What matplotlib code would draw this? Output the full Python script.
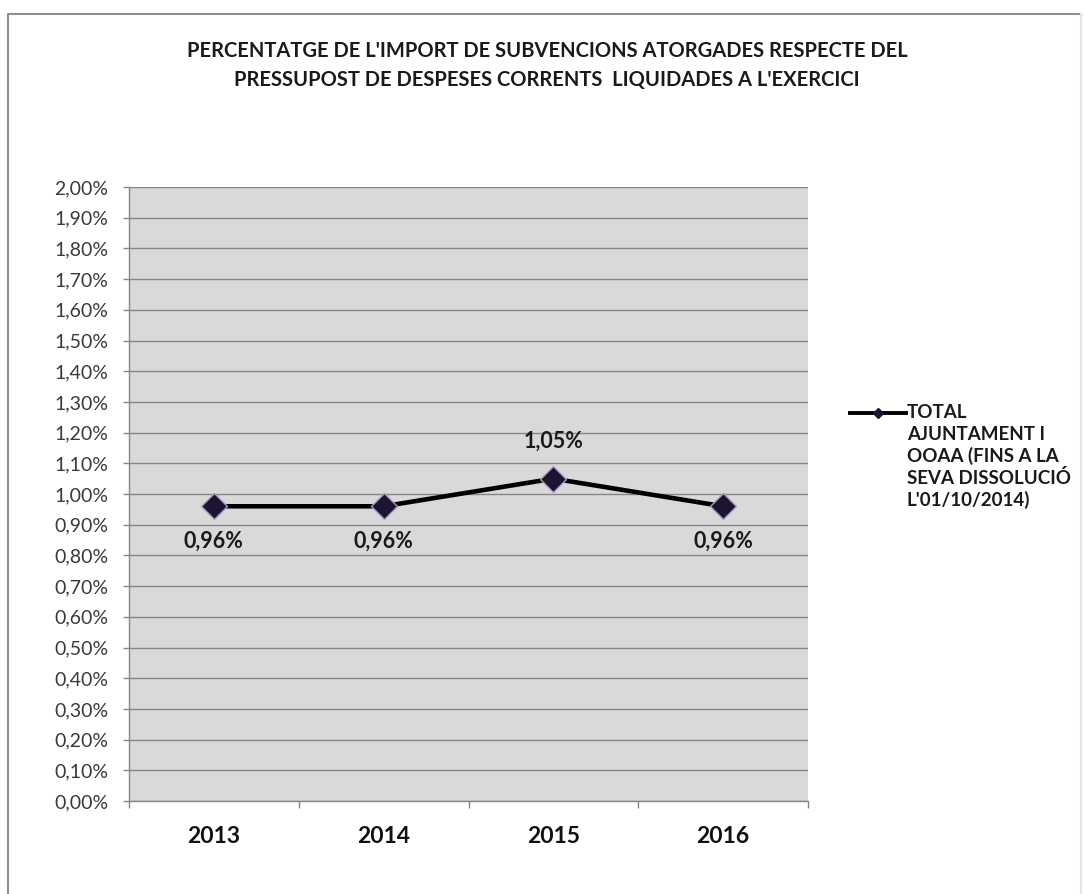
import matplotlib
matplotlib.use("Agg")
import matplotlib.pyplot as plt
from matplotlib.lines import Line2D

# data
years = ['2013', '2014', '2015', '2016']
percent = [0.96, 0.96, 1.05, 0.96]
label_pos = ['below', 'below', 'above', 'below']
series_label = ['TOTAL', 'AJUNTAMENT I', 'OOAA (FINS A LA', 'SEVA DISSOLUCIÓ', "L'01/10/2014)"]
title_lines = ["PERCENTATGE DE L'IMPORT DE SUBVENCIONS ATORGADES RESPECTE DEL",
               "PRESSUPOST DE DESPESES CORRENTS  LIQUIDADES A L'EXERCICI"]
y_ticks = [i / 10 for i in range(0, 21)]

W, H = 1084, 894
plt.rcParams['font.family'] = ['Lato', 'DejaVu Sans']

fig = plt.figure(figsize=(W / 100, H / 100), dpi=100)
fig.patch.set_facecolor('white')

def fx(px):
    return px / W

def fy(py):
    return 1 - py / H

# outer chart border (top + left dark, right faint, bottom cut off)
fig.add_artist(Line2D([fx(8), fx(8), fx(1081)], [fy(900), fy(14), fy(14)],
                      transform=fig.transFigure, color='#8c8c8c', linewidth=1.5))
fig.add_artist(Line2D([fx(1081), fx(1081)], [fy(14), fy(900)],
                      transform=fig.transFigure, color='#e4e4e4', linewidth=1.5))

ax = fig.add_axes([fx(129), fy(801), fx(808) - fx(129), fy(187) - fy(801)])
ax.set_facecolor('#d9d9d9')

x = list(range(len(years)))
ax.plot(x, percent, color='black', linewidth=3.3, zorder=3,
        marker='D', markersize=13, markerfacecolor='#1c1430',
        markeredgecolor='#a89cc8', markeredgewidth=1.0)

for xi, v, pos in zip(x, percent, label_pos):
    txt = f"{v:.2f}%".replace('.', ',')
    dy = -25 if pos == 'below' else 27
    ax.annotate(txt, (xi, v), xytext=(0, dy), textcoords='offset points',
                ha='center', va='center', fontsize=15.5, fontweight='bold',
                color='#1a1a1a', zorder=4)

ax.set_xlim(-0.5, len(years) - 0.5)
ax.set_ylim(0, 2.0)
ax.set_yticks(y_ticks)
ax.set_yticklabels([f"{t:.2f}%".replace('.', ',') for t in y_ticks])
ax.yaxis.grid(True, color='#868686', linewidth=1.0)
ax.set_axisbelow(True)

ax.set_xticks(x)
ax.set_xticklabels(years, fontsize=16.5, fontweight='bold', color='#111111')
ax.set_xticks([i - 0.5 for i in range(len(years) + 1)], minor=True)
ax.tick_params(axis='x', which='major', length=0, pad=18)
ax.tick_params(axis='x', which='minor', length=5, color='#868686', width=1)
ax.tick_params(axis='y', length=4, color='#868686', width=1, pad=11,
               labelsize=14, labelcolor='#3a3a3a')

for s in ['top', 'right']:
    ax.spines[s].set_visible(False)
for s in ['left', 'bottom']:
    ax.spines[s].set_color('#868686')
    ax.spines[s].set_linewidth(1.0)

# title
fig.text(fx(547), fy(51), title_lines[0], ha='center', va='center',
         fontsize=14.5, fontweight='bold', color='#1a1a1a')
fig.text(fx(547), fy(80), title_lines[1], ha='center', va='center',
         fontsize=14.5, fontweight='bold', color='#1a1a1a')

# legend
ax_tr = ax.transAxes.inverted()
p0 = ax_tr.transform(fig.transFigure.transform((fx(850), fy(413))))
p1 = ax_tr.transform(fig.transFigure.transform((fx(906), fy(413))))
ax.add_line(Line2D([p0[0], p1[0]], [p0[1], p1[1]], transform=ax.transAxes,
                   color='black', linewidth=2.8, clip_on=False))
ax.add_line(Line2D([(p0[0] + p1[0]) / 2], [p0[1]], transform=ax.transAxes,
                   marker='D', markersize=5.5, markerfacecolor='#1c1430',
                   markeredgecolor='#1c1430', clip_on=False))
for i, line in enumerate(series_label):
    fig.text(fx(907), fy(412 + 22 * i), line, ha='left', va='center',
             fontsize=13.5, fontweight='bold', color='#1a1a1a')

fig.savefig('out.png', dpi=100)
